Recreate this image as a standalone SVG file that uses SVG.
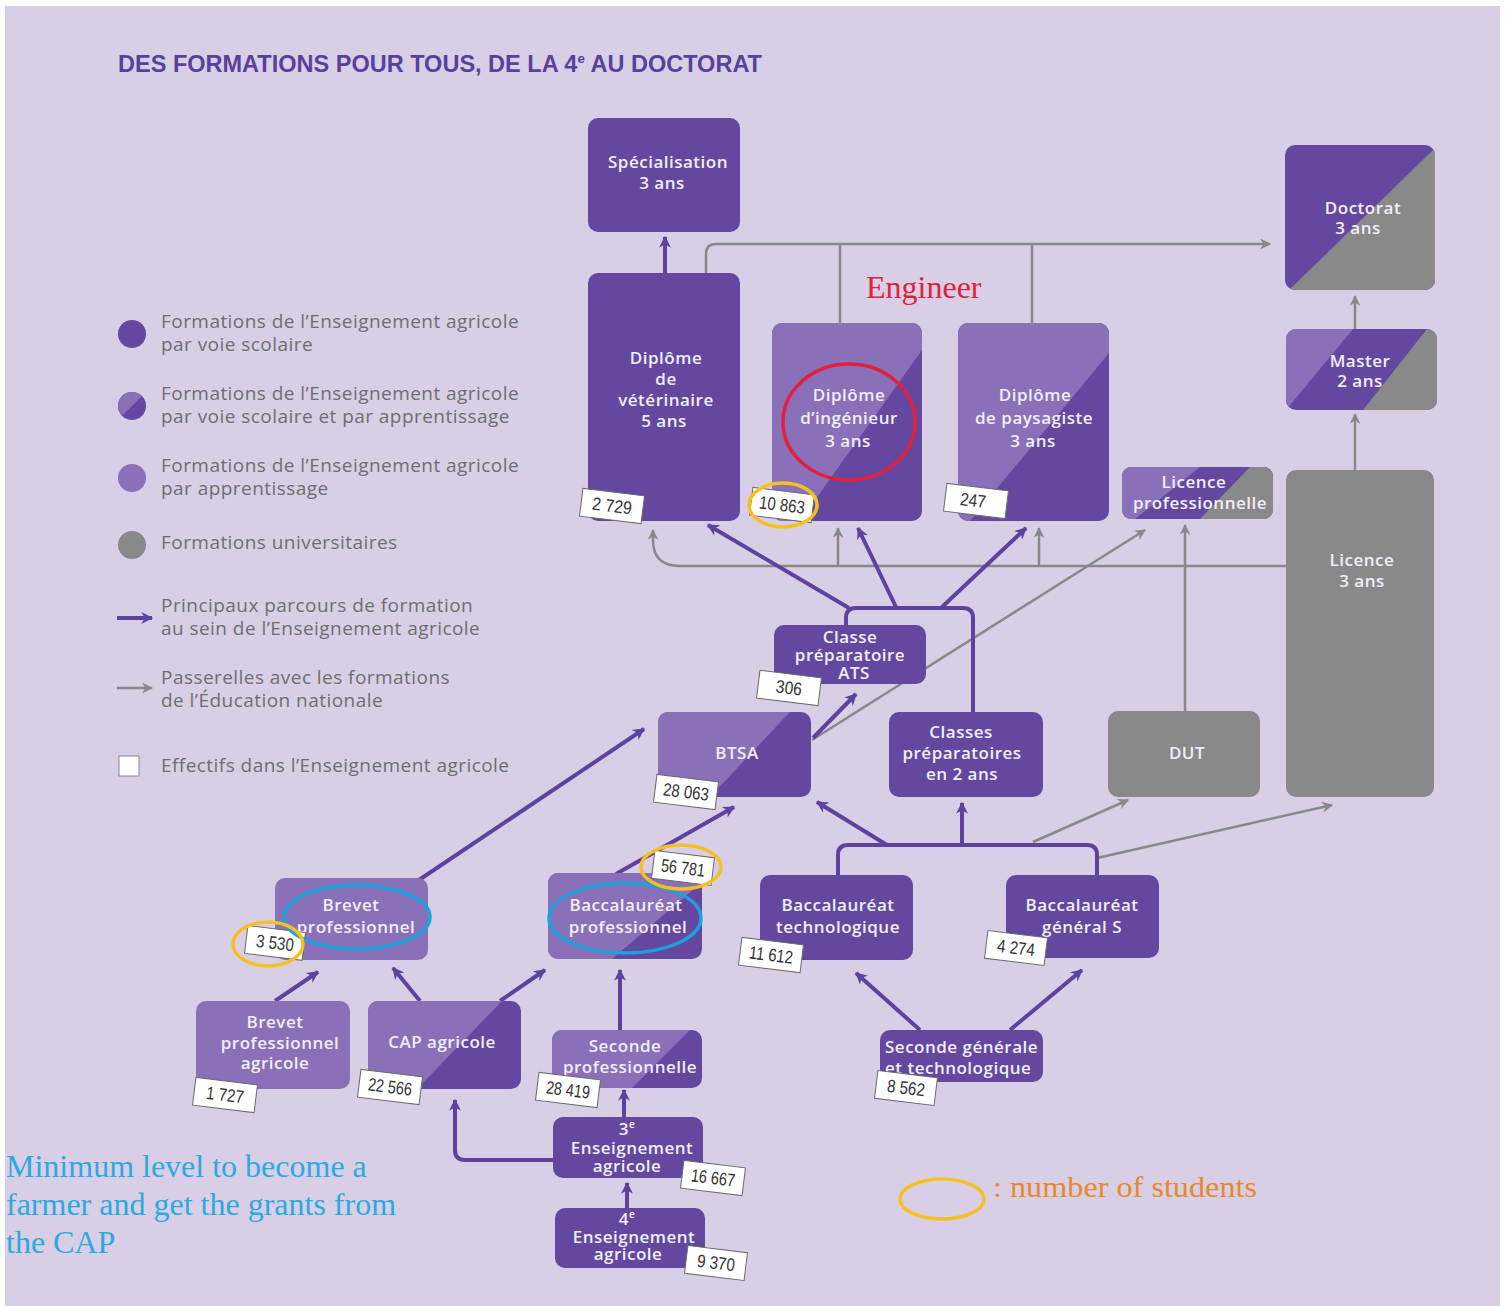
<svg xmlns="http://www.w3.org/2000/svg" width="1509" height="1306" viewBox="0 0 1509 1306">
<style>
.bg{fill:#d8cfe7}
.dk{fill:#6448a0}
.lt{fill:#8a70b8}
.gy{fill:#898989}
.nt{font-family:"Open Sans","Liberation Sans",sans-serif;font-size:17px;font-weight:600;fill:#f2eef8;text-anchor:middle;letter-spacing:0.5px}
.lg{font-family:"Open Sans","Liberation Sans",sans-serif;font-size:19px;fill:#6e6e6e;letter-spacing:0.45px}
.pl{stroke:#5f41a0;stroke-width:4;fill:none}
.gl{stroke:#888;stroke-width:2.5;fill:none}
.tg rect{fill:#fff;stroke:#6a6a6a;stroke-width:1}
.tg text{font-family:"Liberation Sans",sans-serif;font-size:18px;fill:#333;text-anchor:middle}
.an{fill:none;stroke-width:3.5}
</style>
<defs>
<marker id="ap" viewBox="0 0 10 10" refX="9" refY="5" markerWidth="15" markerHeight="12" markerUnits="userSpaceOnUse" orient="auto"><path d="M0,0 L10,5 L0,10 L3,5 z" fill="#5f41a0"/></marker>
<marker id="ag" viewBox="0 0 10 10" refX="9" refY="5" markerWidth="14" markerHeight="11" markerUnits="userSpaceOnUse" orient="auto"><path d="M0,0 L10,5 L0,10 L3,5 z" fill="#888"/></marker>
<clipPath id="cIng"><rect x="772" y="323" width="150" height="198" rx="10"/></clipPath>
<clipPath id="cPay"><rect x="958" y="323" width="151" height="198" rx="10"/></clipPath>
<clipPath id="cBts"><rect x="658" y="712" width="153" height="85" rx="10"/></clipPath>
<clipPath id="cBac"><rect x="548" y="873" width="154" height="86" rx="10"/></clipPath>
<clipPath id="cCap"><rect x="368" y="1001" width="153" height="88" rx="10"/></clipPath>
<clipPath id="cSec"><rect x="552" y="1030" width="150" height="58" rx="10"/></clipPath>
<clipPath id="cDoc"><rect x="1285" y="145" width="150" height="145" rx="10"/></clipPath>
<clipPath id="cMas"><rect x="1286" y="329" width="151" height="81" rx="10"/></clipPath>
<clipPath id="cLpr"><rect x="1122" y="467" width="151" height="52" rx="9"/></clipPath>
<clipPath id="cLeg"><circle cx="132" cy="406" r="14"/></clipPath>
</defs>

<rect width="1509" height="1306" fill="#ffffff"/>
<rect class="bg" x="5" y="6" width="1495" height="1300"/>

<text x="118" y="72" font-family="'Liberation Sans',sans-serif" font-weight="700" font-size="23" fill="#5b3f9c" textLength="644" lengthAdjust="spacingAndGlyphs">DES FORMATIONS POUR TOUS, DE LA 4<tspan font-size="13" dy="-9">e</tspan><tspan dy="9"> AU DOCTORAT</tspan></text>

<g id="legend">
<circle class="dk" cx="132" cy="334" r="14"/>
<text class="lg" x="161" y="328">Formations de l’Enseignement agricole</text>
<text class="lg" x="161" y="351">par voie scolaire</text>
<g clip-path="url(#cLeg)"><rect class="dk" x="116" y="390" width="32" height="32"/><polygon class="lt" points="116,390 148,390 116,422"/></g>
<text class="lg" x="161" y="400">Formations de l’Enseignement agricole</text>
<text class="lg" x="161" y="423">par voie scolaire et par apprentissage</text>
<circle class="lt" cx="132" cy="478" r="14"/>
<text class="lg" x="161" y="472">Formations de l’Enseignement agricole</text>
<text class="lg" x="161" y="495">par apprentissage</text>
<circle class="gy" cx="132" cy="545" r="14"/>
<text class="lg" x="161" y="549">Formations universitaires</text>
<path class="pl" d="M117,618 H152" stroke-width="3" marker-end="url(#ap)"/>
<text class="lg" x="161" y="612">Principaux parcours de formation</text>
<text class="lg" x="161" y="635">au sein de l’Enseignement agricole</text>
<path class="gl" d="M117,688 H152" marker-end="url(#ag)"/>
<text class="lg" x="161" y="684">Passerelles avec les formations</text>
<text class="lg" x="161" y="707">de l’Éducation nationale</text>
<rect x="119" y="756" width="20" height="20" fill="#fff" stroke="#888" stroke-width="1"/>
<text class="lg" x="161" y="772">Effectifs dans l’Enseignement agricole</text>
</g>

<g id="connectors">
<path class="gl" d="M706,273 V254 Q706,244 716,244 H1270" marker-end="url(#ag)"/>
<path class="gl" d="M840,244 V323 M1032,244 V323"/>
<path class="gl" d="M1287,566 H680 Q653,566 653,540 V530" marker-end="url(#ag)"/>
<path class="gl" d="M838,566 V528" marker-end="url(#ag)"/>
<path class="gl" d="M1039,566 V528" marker-end="url(#ag)"/>
<path class="gl" d="M812,740 L1145,530" marker-end="url(#ag)"/>
<path class="gl" d="M1185,711 V525" marker-end="url(#ag)"/>
<path class="gl" d="M1355,470 V414" marker-end="url(#ag)"/>
<path class="gl" d="M1355,329 V296" marker-end="url(#ag)"/>
<path class="gl" d="M1033,842 L1128,800" marker-end="url(#ag)"/>
<path class="gl" d="M1097,858 L1332,805" marker-end="url(#ag)"/>

<path class="pl" d="M665,273 V237" marker-end="url(#ap)"/>
<path class="pl" d="M846,625 V618 Q846,608 856,608 H963 Q973,608 973,618 V712"/>
<path class="pl" d="M849,608 L708,525" marker-end="url(#ap)"/>
<path class="pl" d="M896,607 L858,528" marker-end="url(#ap)"/>
<path class="pl" d="M942,607 L1026,528" marker-end="url(#ap)"/>
<path class="pl" d="M813,738 L856,694" marker-end="url(#ap)"/>
<path class="pl" d="M419,880 L644,729" marker-end="url(#ap)"/>
<path class="pl" d="M616,874 L734,807" marker-end="url(#ap)"/>
<path class="pl" d="M838,875 V855 Q838,845 848,845 H1087 Q1097,845 1097,855 V875"/>
<path class="pl" d="M962,845 V803" marker-end="url(#ap)"/>
<path class="pl" d="M887,845 L817,802" marker-end="url(#ap)"/>
<path class="pl" d="M275,1001 L318,972" marker-end="url(#ap)"/>
<path class="pl" d="M420,1001 L393,968" marker-end="url(#ap)"/>
<path class="pl" d="M500,1001 L545,970" marker-end="url(#ap)"/>
<path class="pl" d="M620,1030 V970" marker-end="url(#ap)"/>
<path class="pl" d="M624,1117 V1090" marker-end="url(#ap)"/>
<path class="pl" d="M627,1208 V1183" marker-end="url(#ap)"/>
<path class="pl" d="M553,1160 H465 Q455,1160 455,1150 V1100" marker-end="url(#ap)"/>
<path class="pl" d="M920,1030 L856,973" marker-end="url(#ap)"/>
<path class="pl" d="M1010,1030 L1082,970" marker-end="url(#ap)"/>
</g>

<g id="n-specialisation">
<rect class="dk" x="588" y="118" width="152" height="114" rx="10"/>
<text class="nt" x="668" y="168">Spécialisation</text>
<text class="nt" x="662" y="189">3 ans</text>
</g>
<g id="n-veterinaire">
<rect class="dk" x="588" y="273" width="152" height="248" rx="10"/>
<text class="nt" x="666" y="364">Diplôme</text>
<text class="nt" x="666" y="385">de</text>
<text class="nt" x="666" y="406">vétérinaire</text>
<text class="nt" x="664" y="427">5 ans</text>
</g>
<g id="n-ingenieur">
<g clip-path="url(#cIng)"><rect class="dk" x="772" y="323" width="150" height="198"/><polygon class="lt" points="772,323 922,323 922,350 800,521 772,521"/></g>
<text class="nt" x="849" y="401">Diplôme</text>
<text class="nt" x="849" y="424">d’ingénieur</text>
<text class="nt" x="848" y="447">3 ans</text>
</g>
<g id="n-paysagiste">
<g clip-path="url(#cPay)"><rect class="dk" x="958" y="323" width="151" height="198"/><polygon class="lt" points="958,323 1109,323 1109,353 970,521 958,521"/></g>
<text class="nt" x="1035" y="401">Diplôme</text>
<text class="nt" x="1034" y="424">de paysagiste</text>
<text class="nt" x="1033" y="447">3 ans</text>
</g>
<g id="n-doctorat">
<g clip-path="url(#cDoc)"><rect class="dk" x="1285" y="145" width="150" height="145"/><polygon class="gy" points="1285,294 1437,146 1437,295"/></g>
<text class="nt" x="1363" y="214" font-size="16">Doctorat</text>
<text class="nt" x="1358" y="234" font-size="16">3 ans</text>
</g>
<g id="n-master">
<g clip-path="url(#cMas)"><rect class="dk" x="1286" y="329" width="151" height="81"/><polygon class="lt" points="1286,329 1353,329 1286,410"/><polygon class="gy" points="1363,410 1427,329 1437,329 1437,410"/></g>
<text class="nt" x="1360" y="367" font-size="16">Master</text>
<text class="nt" x="1360" y="387" font-size="16">2 ans</text>
</g>
<g id="n-licencepro">
<g clip-path="url(#cLpr)"><rect class="dk" x="1122" y="467" width="151" height="52"/><polygon class="lt" points="1122,467 1200,467 1135,519 1122,519"/><polygon class="gy" points="1250,467 1273,467 1273,519 1200,519"/></g>
<text class="nt" x="1194" y="488" font-size="16">Licence</text>
<text class="nt" x="1200" y="509" font-size="16">professionnelle</text>
</g>
<g id="n-licence">
<rect class="gy" x="1286" y="470" width="148" height="327" rx="10"/>
<text class="nt" x="1362" y="566" font-size="16">Licence</text>
<text class="nt" x="1362" y="587" font-size="16">3 ans</text>
</g>
<g id="n-dut">
<rect class="gy" x="1108" y="711" width="152" height="86" rx="10"/>
<text class="nt" x="1187" y="759" font-size="16">DUT</text>
</g>
<g id="n-ats">
<rect class="dk" x="774" y="625" width="152" height="59" rx="10"/>
<text class="nt"><tspan x="850" y="643">Classe</tspan><tspan x="850" y="661">préparatoire</tspan><tspan x="854" y="679">ATS</tspan></text>
</g>
<g id="n-classesprepa">
<rect class="dk" x="889" y="712" width="154" height="85" rx="10"/>
<text class="nt" x="961" y="738">Classes</text>
<text class="nt" x="962" y="759">préparatoires</text>
<text class="nt" x="962" y="780">en 2 ans</text>
</g>
<g id="n-btsa">
<g clip-path="url(#cBts)"><rect class="dk" x="658" y="712" width="153" height="85"/><polygon class="lt" points="658,712 790,712 710,797 658,797"/></g>
<text class="nt" x="737" y="759">BTSA</text>
</g>
<g id="n-brevetpro">
<rect class="lt" x="275" y="878" width="153" height="82" rx="10"/>
<text class="nt" x="351" y="911">Brevet</text>
<text class="nt" x="356" y="933">professionnel</text>
</g>
<g id="n-bacpro">
<g clip-path="url(#cBac)"><rect class="dk" x="548" y="873" width="154" height="86"/><polygon class="lt" points="548,873 702,873 702,882 612,959 548,959"/></g>
<text class="nt" x="626" y="911">Baccalauréat</text>
<text class="nt" x="628" y="933">professionnel</text>
</g>
<g id="n-bactechno">
<rect class="dk" x="760" y="875" width="153" height="85" rx="10"/>
<text class="nt" x="838" y="911">Baccalauréat</text>
<text class="nt" x="838" y="933">technologique</text>
</g>
<g id="n-bacgeneral">
<rect class="dk" x="1006" y="875" width="153" height="83" rx="10"/>
<text class="nt" x="1082" y="911">Baccalauréat</text>
<text class="nt" x="1082" y="933">général S</text>
</g>
<g id="n-bpa">
<rect class="lt" x="196" y="1001" width="154" height="88" rx="10"/>
<text class="nt" x="275" y="1028">Brevet</text>
<text class="nt" x="280" y="1049">professionnel</text>
<text class="nt" x="275" y="1069">agricole</text>
</g>
<g id="n-cap">
<g clip-path="url(#cCap)"><rect class="dk" x="368" y="1001" width="153" height="88"/><polygon class="lt" points="368,1001 502,1001 417,1089 368,1089"/></g>
<text class="nt" x="442" y="1048">CAP agricole</text>
</g>
<g id="n-secondepro">
<g clip-path="url(#cSec)"><rect class="dk" x="552" y="1030" width="150" height="58"/><polygon class="lt" points="552,1030 690,1030 632,1088 552,1088"/></g>
<text class="nt" x="625" y="1052">Seconde</text>
<text class="nt" x="630" y="1073">professionnelle</text>
</g>
<g id="n-secondegen">
<rect class="dk" x="880" y="1030" width="163" height="52" rx="10"/>
<text class="nt" style="text-anchor:start"><tspan x="885" y="1053">Seconde générale</tspan><tspan x="885" y="1074">et technologique</tspan></text>
</g>
<g id="n-3e">
<rect class="dk" x="553" y="1117" width="150" height="61" rx="10"/>
<text class="nt" font-size="16"><tspan x="627" y="1135">3<tspan font-size="10" baseline-shift="super">e</tspan></tspan><tspan x="632" y="1154">Enseignement</tspan><tspan x="627" y="1172">agricole</tspan></text>
</g>
<g id="n-4e">
<rect class="dk" x="555" y="1208" width="150" height="60" rx="10"/>
<text class="nt" font-size="16"><tspan x="627" y="1225">4<tspan font-size="10" baseline-shift="super">e</tspan></tspan><tspan x="634" y="1243">Enseignement</tspan><tspan x="628" y="1260">agricole</tspan></text>
</g>

<g id="tags">
<g class="tg" transform="translate(612,506) rotate(7)"><rect x="-31" y="-14" width="62" height="28"/><text y="6" textLength="40" lengthAdjust="spacingAndGlyphs">2 729</text></g>
<g class="tg" transform="translate(782,505) rotate(7)"><rect x="-31" y="-14" width="62" height="28"/><text y="6" textLength="46" lengthAdjust="spacingAndGlyphs">10 863</text></g>
<g class="tg" transform="translate(976,501) rotate(7)"><rect x="-31" y="-14" width="62" height="28"/><text x="-3" y="6" textLength="26" lengthAdjust="spacingAndGlyphs">247</text></g>
<g class="tg" transform="translate(789,688) rotate(7)"><rect x="-31" y="-14" width="62" height="28"/><text y="6" textLength="26" lengthAdjust="spacingAndGlyphs">306</text></g>
<g class="tg" transform="translate(686,792) rotate(7)"><rect x="-31" y="-14" width="62" height="28"/><text y="6" textLength="46" lengthAdjust="spacingAndGlyphs">28 063</text></g>
<g class="tg" transform="translate(683,868) rotate(7)"><rect x="-30" y="-14" width="60" height="28"/><text y="6" textLength="44" lengthAdjust="spacingAndGlyphs">56 781</text></g>
<g class="tg" transform="translate(275,943) rotate(7)"><rect x="-29" y="-14" width="58" height="28"/><text y="6" textLength="38" lengthAdjust="spacingAndGlyphs">3 530</text></g>
<g class="tg" transform="translate(771,955) rotate(7)"><rect x="-31" y="-14" width="62" height="28"/><text y="6" textLength="44" lengthAdjust="spacingAndGlyphs">11 612</text></g>
<g class="tg" transform="translate(1016,948) rotate(7)"><rect x="-30" y="-14" width="60" height="28"/><text y="6" textLength="38" lengthAdjust="spacingAndGlyphs">4 274</text></g>
<g class="tg" transform="translate(225,1095) rotate(7)"><rect x="-31" y="-14" width="62" height="28"/><text y="6" textLength="38" lengthAdjust="spacingAndGlyphs">1 727</text></g>
<g class="tg" transform="translate(390,1087) rotate(7)"><rect x="-31" y="-14" width="62" height="28"/><text y="6" textLength="44" lengthAdjust="spacingAndGlyphs">22 566</text></g>
<g class="tg" transform="translate(568,1090) rotate(7)"><rect x="-31" y="-14" width="62" height="28"/><text y="6" textLength="44" lengthAdjust="spacingAndGlyphs">28 419</text></g>
<g class="tg" transform="translate(906,1088) rotate(7)"><rect x="-30" y="-14" width="60" height="28"/><text y="6" textLength="38" lengthAdjust="spacingAndGlyphs">8 562</text></g>
<g class="tg" transform="translate(713,1178) rotate(7)"><rect x="-31" y="-14" width="62" height="28"/><text y="6" textLength="44" lengthAdjust="spacingAndGlyphs">16 667</text></g>
<g class="tg" transform="translate(716,1263) rotate(7)"><rect x="-30" y="-14" width="60" height="28"/><text y="6" textLength="38" lengthAdjust="spacingAndGlyphs">9 370</text></g>
</g>

<g id="annotations">
<ellipse class="an" cx="849" cy="422" rx="66" ry="58" stroke="#e3203c"/>
<ellipse class="an" cx="783" cy="505" rx="34" ry="22" stroke="#f5c122"/>
<ellipse class="an" cx="357" cy="917" rx="73" ry="32" stroke="#1ba2da"/>
<ellipse class="an" cx="268" cy="944" rx="35" ry="22" stroke="#f5c122"/>
<ellipse class="an" cx="625" cy="918" rx="76" ry="35" stroke="#1ba2da"/>
<ellipse class="an" cx="681" cy="867" rx="40" ry="22" stroke="#f5c122"/>
<ellipse class="an" cx="942" cy="1199" rx="42" ry="20" stroke="#f5c122"/>
<text x="866" y="298" font-family="'Liberation Serif',serif" font-size="32" fill="#e3203c">Engineer</text>
<text x="993" y="1197" font-family="'Liberation Serif',serif" font-size="30" fill="#e8892a" textLength="264" lengthAdjust="spacingAndGlyphs">: number of students</text>
<text font-family="'Liberation Serif',serif" font-size="32" fill="#2aaae1"><tspan x="6" y="1177">Minimum level to become a</tspan><tspan x="6" y="1215">farmer and get the grants from</tspan><tspan x="6" y="1253">the CAP</tspan></text>
</g>
</svg>
